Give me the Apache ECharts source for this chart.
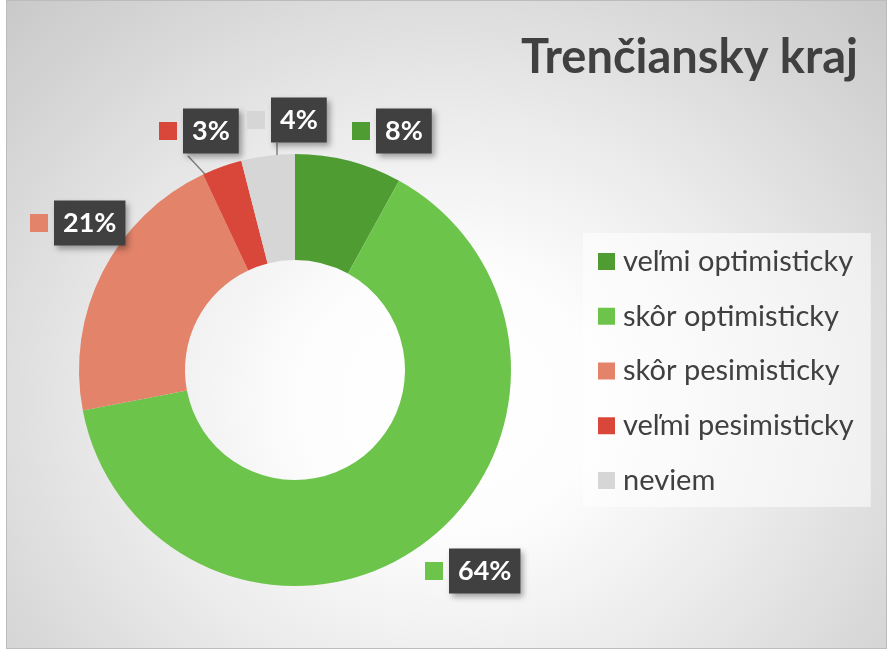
<!DOCTYPE html>
<html>
<head>
<meta charset="utf-8">
<script src="https://cdn.jsdelivr.net/npm/echarts@6/dist/echarts.min.js"></script>
<style>
  html, body { margin: 0; padding: 0; background: #ffffff; }
  .bg {
    position: absolute; left: 6px; top: 0; width: 879px; height: 647px;
    border: 1px solid #bcbcbc;
    background: radial-gradient(ellipse 680px 600px at 440px 400px, #ffffff 0%, #fdfdfd 22%, #ebebeb 48%, #d6d6d6 75%, #c4c4c4 100%);
  }
  #chart { position: absolute; left: 0; top: 0; width: 889px; height: 652px; }
</style>
</head>
<body>
<div class="bg"></div>
<div id="chart"></div>
<script>
  // údaje z grafu
  const titleText = 'Trenčiansky kraj'
  const categories = ['veľmi optimisticky', 'skôr optimisticky', 'skôr pesimisticky', 'veľmi pesimisticky', 'neviem']
  const values = [8, 64, 21, 3, 4]
  const colors = ['#4f9c33', '#6cc44b', '#e2836a', '#d9473b', '#d6d6d6']

  // umiestnenie popisiek (ľavý okraj štvorčeka, stred boxu)
  const labelPos = [[352, 131], [425, 571], [30, 223], [159, 131], [247, 120]]
  const linePts = [null, null, null,
    [[245, 217], [216, 186], [188, 156]],
    [[277, 209], [277, 176], [277, 143]]]

  const rich = {
    s: { width: 6 },
    b: {
      fontFamily: 'Lato', fontWeight: 'bold', fontSize: 27, color: '#ffffff',
      lineHeight: 30, backgroundColor: '#404040', padding: [9, 9, 9, 9],
      shadowBlur: 6, shadowOffsetX: 3, shadowOffsetY: 3, shadowColor: 'rgba(0,0,0,0.35)'
    }
  }
  colors.forEach(function (c, i) {
    rich['m' + i] = { width: 18, height: 18, backgroundColor: c }
  })

  const chart = echarts.init(document.getElementById('chart'))
  chart.setOption({
    backgroundColor: 'transparent',
    title: {
      text: titleText,
      right: 26,
      top: 29,
      textStyle: { fontFamily: 'Lato', fontWeight: 'bold', fontSize: 47, color: '#404040' }
    },
    legend: {
      orient: 'vertical',
      left: 583,
      top: 233,
      padding: [14, 17, 12, 15],
      backgroundColor: 'rgba(255,255,255,0.55)',
      itemWidth: 17,
      itemHeight: 17,
      itemGap: 25.75,
      icon: 'rect',
      textStyle: { fontFamily: 'Lato', fontSize: 29, color: '#404040', lineHeight: 26, padding: [0, 0, 0, 3] },
      data: categories
    },
    series: [
      {
        type: 'pie',
        center: [295, 370],
        radius: [110, 216],
        startAngle: 90,
        clockwise: true,
        avoidLabelOverlap: false,
        label: {
          show: true,
          position: 'outside',
          rich: rich
        },
        labelLine: {
          show: true,
          lineStyle: { color: '#7f7f7f', width: 1.5 }
        },
        labelLayout: function (params) {
          const i = params.dataIndex
          const out = { x: labelPos[i][0], y: labelPos[i][1], align: 'left', verticalAlign: 'middle' }
          if (linePts[i]) out.labelLinePoints = linePts[i]
          return out
        },
        emphasis: { disabled: true },
        data: categories.map(function (name, i) {
          return {
            name: name,
            value: values[i],
            itemStyle: { color: colors[i] },
            label: { formatter: '{m' + i + '|}{s|}{b|' + values[i] + '%}' },
            labelLine: { show: !!linePts[i] }
          }
        })
      }
    ]
  })
</script>
</body>
</html>
